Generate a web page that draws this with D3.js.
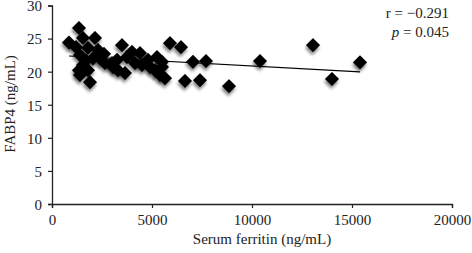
<!DOCTYPE html>
<html><head><meta charset="utf-8">
<script src="https://cdn.jsdelivr.net/npm/d3@7"></script>
<style>
html,body{margin:0;padding:0;background:#fff;}
svg text{font-family:"Liberation Serif","Times New Roman",serif;fill:#222;}
</style></head>
<body><svg id="c" width="472" height="253"></svg>
<script>
const ferritin = [850,1350,1200,1550,2150,1800,2300,2600,1400,2050,2650,1550,1400,1800,1900,3000,3500,3250,3750,4400,3050,3650,4150,5250,4900,5500,5900,6450,5500,5650,5400,7050,7700,6650,7400,8850,10400,13050,14000,15400,1350,1700,2400,4800,5150,4000,3300,4500];
const fabp4    = [24.4,26.6,23.7,25.1,25.1,23.6,23.3,22.7,22.5,22.0,21.3,21.0,19.5,20.2,18.4,21.3,24.0,21.8,22.2,22.8,20.7,19.8,21.3,22.2,20.7,20.7,24.3,23.7,21.5,19.0,19.5,21.5,21.6,18.6,18.7,17.8,21.6,24.0,18.9,21.4,20.2,21.7,22.0,21.8,20.2,23.0,20.2,21.0];
const xTicks = [0,5000,10000,15000,20000];
const yTicks = [0,5,10,15,20,25,30];
const fitIntercept = 22.5, fitSlope = -0.000164;
const fitRange = [850, 15400];
const statLines = [{pre:"r = \u22120.291", it:""},{it:"p", pre:" = 0.045"}];

const svg = d3.select("#c");
const x = d3.scaleLinear().domain([0,20000]).range([52,452]);
const y = d3.scaleLinear().domain([0,30]).range([204,5.5]);

const defs = svg.append("defs");
const f = defs.append("filter").attr("id","sh").attr("x","-50%").attr("y","-50%").attr("width","200%").attr("height","200%");
f.append("feDropShadow").attr("dx",1.5).attr("dy",2.5).attr("stdDeviation",1.7).attr("flood-color","#000").attr("flood-opacity",0.5);

const xa = svg.append("g").attr("transform","translate(0,204)")
  .call(d3.axisBottom(x).tickValues(xTicks).tickSize(4).tickPadding(6).tickFormat(d3.format("d")));
const ya = svg.append("g").attr("transform","translate(52,0)")
  .call(d3.axisLeft(y).tickValues(yTicks).tickSize(4).tickPadding(6));
[xa,ya].forEach(a=>{
  a.selectAll("path").attr("stroke","#222").attr("stroke-width",1.3);
  a.selectAll("line").attr("stroke","#222").attr("stroke-width",1.2);
  a.selectAll("text").attr("font-size",15).attr("font-family","Liberation Serif").attr("fill","#222");
});
ya.selectAll("text").attr("dy","0.36em");

svg.append("text").attr("x",x(10000)+10).attr("y",244).attr("text-anchor","middle")
  .attr("font-size",15).text("Serum ferritin (ng/mL)");
svg.append("text").attr("transform","translate(15,104) rotate(-90)").attr("text-anchor","middle")
  .attr("font-size",15).text("FABP4 (ng/mL)");

svg.append("g").selectAll("path").data(d3.range(ferritin.length)).join("path")
  .attr("d", d3.symbol(d3.symbolSquare, 100)())
  .attr("transform", i=>`translate(${x(ferritin[i])},${y(fabp4[i])}) rotate(45)`)
  .attr("fill","#000").attr("filter","url(#sh)");

svg.append("line")
  .attr("x1",x(fitRange[0])).attr("y1",y(fitIntercept+fitSlope*fitRange[0]))
  .attr("x2",x(fitRange[1])).attr("y2",y(fitIntercept+fitSlope*fitRange[1]))
  .attr("stroke","#000").attr("stroke-width",1.1);

const st = svg.append("g");
const t1 = st.append("text").attr("x",449).attr("y",18).attr("text-anchor","end").attr("font-size",15);
t1.append("tspan").text(statLines[0].pre);
const t2 = st.append("text").attr("x",449).attr("y",37).attr("text-anchor","end").attr("font-size",15);
t2.append("tspan").attr("font-style","italic").text(statLines[1].it);
t2.append("tspan").text(statLines[1].pre);
</script></body></html>
